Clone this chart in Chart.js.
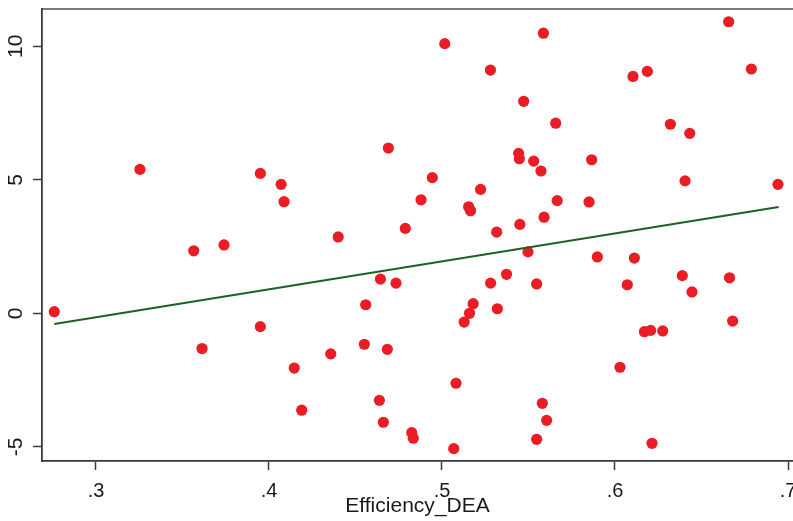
<!DOCTYPE html>
<html>
<head>
<meta charset="utf-8">
<script src="https://cdn.jsdelivr.net/npm/chart.js@4.4.1/dist/chart.umd.min.js"></script>
<style>
  html, body { margin: 0; padding: 0; background: #fff; }
  #wrap { width: 793px; height: 521px; position: relative; }
</style>
</head>
<body>
<div id="wrap"><canvas id="c" width="793" height="521"></canvas></div>
<script>
// ---- data ----
const xValues = [
  0.3254, 0.395, 0.407, 0.4087, 0.469, 0.440, 0.3565, 0.374,
  0.5016, 0.5586, 0.6657, 0.6788, 0.528, 0.6104, 0.6187, 0.5472,
  0.5657, 0.6320, 0.6432, 0.5443, 0.5447, 0.553, 0.5572, 0.5865,
  0.6405, 0.6942, 0.4944, 0.4879, 0.5223, 0.5154, 0.5165, 0.5666,
  0.5850, 0.4788, 0.5316, 0.545, 0.5590, 0.5497, 0.5898, 0.6112,
  0.2759, 0.3613, 0.395, 0.4146, 0.4189, 0.4357, 0.4551, 0.4559,
  0.4644, 0.4734, 0.4684, 0.4638, 0.4661, 0.5281, 0.5373, 0.5547,
  0.5180, 0.5159, 0.5128, 0.5320, 0.6071, 0.6389, 0.6445, 0.6662,
  0.6680, 0.6170, 0.6206, 0.6276, 0.6029, 0.5081, 0.5580, 0.5605,
  0.4825, 0.4834, 0.5068, 0.5547, 0.6214
];
const yValues = [
  5.39, 5.24, 4.83, 4.18, 6.19, 2.86, 2.34, 2.56,
  10.10, 10.49, 10.92, 9.15, 9.11, 8.87, 9.06, 7.94,
  7.12, 7.08, 6.74, 5.99, 5.79, 5.70, 5.33, 5.75,
  4.96, 4.83, 5.08, 4.25, 4.64, 3.99, 3.84, 4.22,
  4.17, 3.18, 3.04, 3.33, 3.60, 2.30, 2.11, 2.07,
  0.06, -1.32, -0.50, -2.05, -3.63, -1.52, -1.16, 0.32,
  1.28, 1.13, -1.35, -3.26, -4.08, 1.13, 1.46, 1.10,
  0.36, 0.00, -0.33, 0.17, 1.07, 1.41, 0.80, 1.33,
  -0.29, -0.69, -0.64, -0.66, -2.02, -2.62, -3.37, -4.01,
  -4.47, -4.68, -5.07, -4.72, -4.87
];
const fitX = [0.2759, 0.6946];
const fitY = [-0.40, 3.98];
const xTickValues = [0.3, 0.4, 0.5, 0.6, 0.7];
const xTickLabels = ['.3', '.4', '.5', '.6', '.7'];
const yTickValues = [-5, 0, 5, 10];
const yTickLabels = ['-5', '0', '5', '10'];
const xTitle = 'Efficiency_DEA';

// ---- chart ----
const FONT = "'Liberation Sans', Arial, sans-serif";
const scatterData = xValues.map((x, i) => ({ x: x, y: yValues[i] }));
const fitData = fitX.map((x, i) => ({ x: x, y: fitY[i] }));

new Chart(document.getElementById('c'), {
  type: 'scatter',
  data: {
    datasets: [
      {
        type: 'line',
        data: fitData,
        borderColor: 'rgb(28,98,36)',
        borderWidth: 2.2,
        pointRadius: 0,
        fill: false,
        order: 0
      },
      {
        data: scatterData,
        backgroundColor: 'rgb(234,28,36)',
        borderWidth: 0,
        pointRadius: 5.6,
        order: 1
      }
    ]
  },
  options: {
    responsive: false,
    animation: false,
    devicePixelRatio: 1,
    layout: { padding: 0, autoPadding: false },
    plugins: { legend: { display: false }, tooltip: { enabled: false } },
    scales: {
      x: {
        type: 'linear',
        position: 'bottom',
        min: 0.26879,
        max: 0.70289,
        afterBuildTicks: s => { s.ticks = xTickValues.map(v => ({ value: v })); },
        afterFit: s => { s.height = 60; s.paddingLeft = 0; s.paddingRight = 0; },
        ticks: {
          callback: (v, i) => xTickLabels[i],
          font: { family: FONT, size: 20 },
          color: '#1a1a1a',
          padding: 9,
          maxRotation: 0,
          minRotation: 0,
          autoSkip: false
        },
        grid: {
          drawOnChartArea: false,
          drawTicks: true,
          tickLength: 9,
          tickColor: '#3a3a3a',
          tickWidth: 1.5
        },
        border: { display: true, color: '#3a3a3a', width: 1.8 },
        title: {
          display: true,
          text: xTitle,
          font: { family: FONT, size: 21 },
          color: '#1a1a1a',
          padding: { top: 0, bottom: 2 }
        }
      },
      x2: {
        type: 'linear',
        position: 'top',
        min: 0.26879,
        max: 0.70289,
        afterFit: s => { s.height = 9; s.paddingLeft = 0; s.paddingRight = 0; },
        ticks: { display: false },
        grid: { display: false, drawTicks: false },
        border: { display: true, color: '#7a7a7a', width: 2 }
      },
      y: {
        type: 'linear',
        position: 'left',
        min: -5.532,
        max: 11.397,
        afterBuildTicks: s => { s.ticks = yTickValues.map(v => ({ value: v })); },
        afterFit: s => { s.width = 42; s.paddingTop = 0; s.paddingBottom = 0; },
        ticks: {
          callback: (v, i) => yTickLabels[i],
          font: { family: FONT, size: 21 },
          color: '#1a1a1a',
          padding: 5,
          minRotation: 90,
          maxRotation: 90,
          crossAlign: 'center',
          autoSkip: false
        },
        grid: {
          drawOnChartArea: false,
          drawTicks: true,
          tickLength: 9,
          tickColor: '#3a3a3a',
          tickWidth: 1.5
        },
        border: { display: true, color: '#3a3a3a', width: 1.8 }
      }
    }
  }
});
</script>
</body>
</html>
